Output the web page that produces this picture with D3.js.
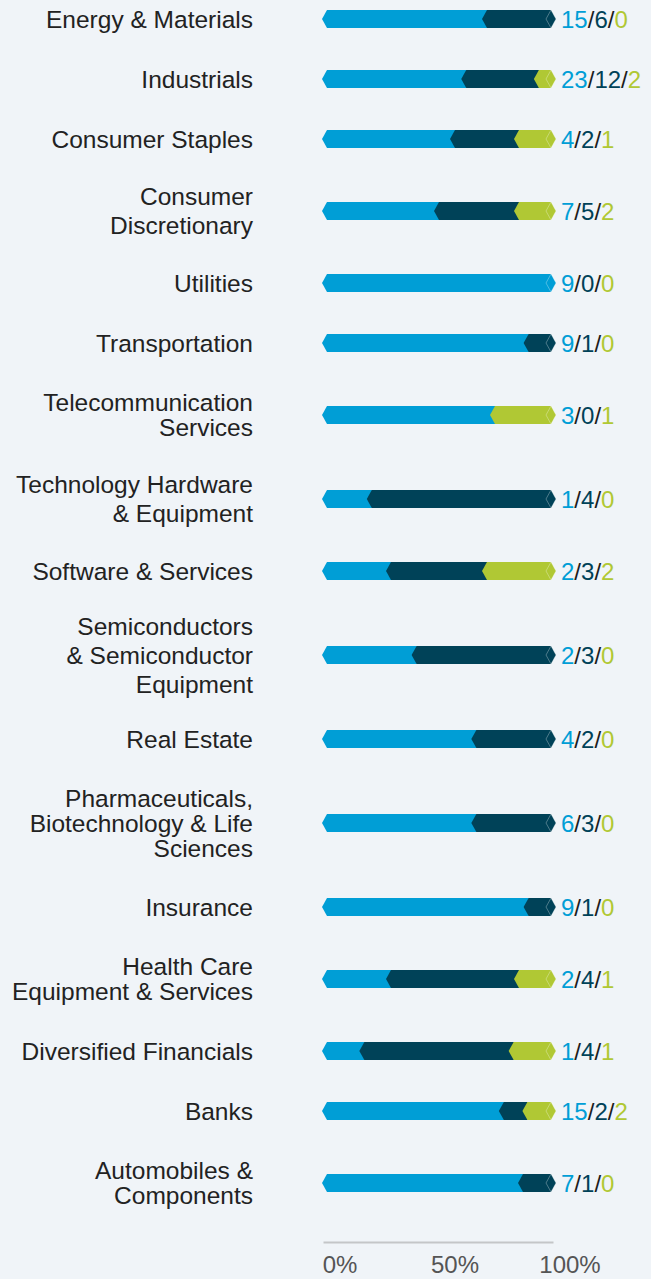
<!DOCTYPE html>
<html>
<head>
<meta charset="utf-8">
<script src="https://cdn.jsdelivr.net/npm/d3@7"></script>
<style>
  body { margin: 0; background: #f0f4f8; }
  svg { display: block; font-family: "Liberation Sans", Arial, Helvetica, sans-serif; }
</style>
</head>
<body>
<script>
// categories, top to bottom, and how the label wraps
const categories = [
  "Energy & Materials", "Industrials", "Consumer Staples", "Consumer Discretionary",
  "Utilities", "Transportation", "Telecommunication Services",
  "Technology Hardware & Equipment", "Software & Services",
  "Semiconductors & Semiconductor Equipment", "Real Estate",
  "Pharmaceuticals, Biotechnology & Life Sciences", "Insurance",
  "Health Care Equipment & Services", "Diversified Financials", "Banks",
  "Automobiles & Components"
];
const labelLines = [
  ["Energy & Materials"], ["Industrials"], ["Consumer Staples"], ["Consumer", "Discretionary"],
  ["Utilities"], ["Transportation"], ["Telecommunication", "Services"],
  ["Technology Hardware", "& Equipment"], ["Software & Services"],
  ["Semiconductors", "& Semiconductor", "Equipment"], ["Real Estate"],
  ["Pharmaceuticals,", "Biotechnology & Life", "Sciences"], ["Insurance"],
  ["Health Care", "Equipment & Services"], ["Diversified Financials"], ["Banks"],
  ["Automobiles &", "Components"]
];
// the three counts shown as a/b/c
const firstCounts  = [15, 23, 4, 7, 9, 9, 3, 1, 2, 2, 4, 6, 9, 2, 1, 15, 7];
const secondCounts = [ 6, 12, 2, 5, 0, 1, 0, 4, 3, 3, 2, 3, 1, 4, 4,  2, 1];
const thirdCounts  = [ 0,  2, 1, 2, 0, 0, 1, 0, 2, 0, 0, 0, 0, 1, 1,  2, 0];
const tickValues = [0, 0.5, 1];
const tickLabels = ["0%", "50%", "100%"];

const colors = { a: "#009ed6", b: "#004258", c: "#b0c834" };
const leading = { "Consumer Discretionary": 29, "Technology Hardware & Equipment": 29,
  "Semiconductors & Semiconductor Equipment": 29 };

const W = 651, H = 1279;
const barH = 18, tip = 5;

const data = categories.map((cat, i) => ({
  cat, lines: labelLines[i], a: firstCounts[i], b: secondCounts[i], c: thirdCounts[i]
}));

// row centres: each row is 60px tall plus 24px for every extra label line
let prev = null;
data.forEach(d => {
  d.h = 60 + (d.lines.length - 1) * 24;
  d.cy = prev ? prev.cy + (prev.h + d.h) / 2 : 19;
  prev = d;
});

const x = d3.scaleLinear().domain([0, 1]).range([327, 551]);

const svg = d3.select("body").append("svg")
  .attr("width", W).attr("height", H);

const stacked = d3.stack().keys(["a", "b", "c"]).offset(d3.stackOffsetExpand)(data);

function hex(x0, x1, cy) {
  const t = cy - barH / 2, b = cy + barH / 2;
  return `M${x0 - tip},${cy}L${x0},${t}L${x1},${t}L${x1 + tip},${cy}L${x1},${b}L${x0},${b}Z`;
}

svg.append("g").selectAll("g")
  .data(stacked)
  .join("g")
  .attr("fill", s => colors[s.key])
  .selectAll("path")
  .data(s => s.filter(p => p[1] - p[0] > 0))
  .join("path")
  .attr("d", p => hex(x(p[0]), x(p[1]), p.data.cy));

// faint diamond outline at the end of each bar
svg.append("g").selectAll("path")
  .data(data)
  .join("path")
  .attr("d", d => {
    const x1 = x(1), cy = d.cy;
    return `M${x1 - tip},${cy}L${x1},${cy - barH / 2}L${x1 + tip},${cy}L${x1},${cy + barH / 2}Z`;
  })
  .attr("fill", "none")
  .attr("stroke", "rgba(255,255,255,0.3)")
  .attr("stroke-width", 1);

// category labels
const labels = svg.append("g")
  .attr("text-anchor", "end")
  .attr("font-size", 24.5)
  .attr("fill", "#222");
labels.selectAll("text")
  .data(data)
  .join("text")
  .attr("x", 253)
  .each(function(d) {
    const lh = leading[d.cat] || 25;
    const top = d.cy - (d.lines.length - 1) * lh / 2;
    d3.select(this).selectAll("tspan")
      .data(d.lines)
      .join("tspan")
      .attr("x", 253)
      .attr("y", (l, j) => top + j * lh)
      .attr("dy", "0.36em")
      .text(l => l);
  });

// a/b/c value labels
const vals = svg.append("g").attr("font-size", 24);
vals.selectAll("text")
  .data(data)
  .join("text")
  .attr("x", x(1) + 10)
  .attr("y", d => d.cy)
  .attr("dy", "0.36em")
  .each(function(d) {
    const t = d3.select(this);
    t.append("tspan").attr("fill", colors.a).text(d.a);
    t.append("tspan").attr("fill", "#1d1d1d").text("/");
    t.append("tspan").attr("fill", colors.b).text(d.b);
    t.append("tspan").attr("fill", "#1d1d1d").text("/");
    t.append("tspan").attr("fill", colors.c).text(d.c);
  });

// axis line and percent labels
const axisY = 1242;
const xAxis = x.copy().range([323, 553]);
const axisG = svg.append("g")
  .attr("transform", `translate(0,${axisY})`)
  .call(d3.axisBottom(xAxis).tickValues([]).tickSizeOuter(0));
axisG.select(".domain").attr("stroke", "#c4c6c8").attr("stroke-width", 2);

const tickX = x.copy().range([340, 570]);
svg.append("g")
  .attr("font-size", 24)
  .attr("fill", "#555")
  .attr("text-anchor", "middle")
  .selectAll("text")
  .data(tickValues)
  .join("text")
  .attr("x", v => tickX(v))
  .attr("y", 1273)
  .text((v, i) => tickLabels[i]);
</script>
</body>
</html>
